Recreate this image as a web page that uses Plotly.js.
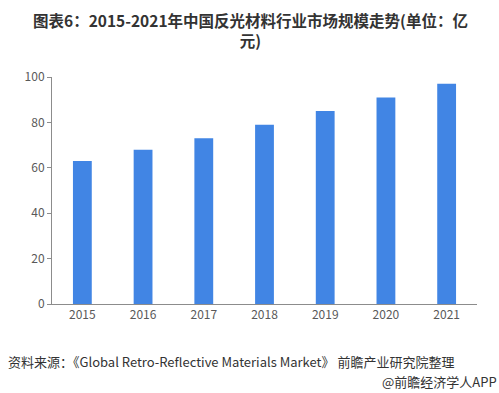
<!DOCTYPE html>
<html>
<head>
<meta charset="utf-8">
<script src="https://cdn.plot.ly/plotly-3.0.1.min.js"></script>
<style>html,body{margin:0;padding:0;background:#fff;}#chart{width:499px;height:393px;}</style>
</head>
<body>
<div id="chart"></div>
<script>
const years = ['2015','2016','2017','2018','2019','2020','2021'];
const marketSize = [63, 68, 73, 79, 85, 91, 97];
const yTicks = [0, 20, 40, 60, 80, 100];
const titleText = '图表6：2015-2021年中国反光材料行业市场规模走势(单位：亿<br>元)';
const sourceText = '资料来源：《Global Retro-Reflective Materials Market》 前瞻产业研究院整理';
const creditText = '@前瞻经济学人APP';

const font = '"Noto Sans CJK SC", "Microsoft YaHei", sans-serif';
const W = 499, H = 393, L = 52, R = 22, T = 77, B = 89;
const pw = W - L - R, ph = H - T - B;
const px = x => (x - L) / pw;
const py = y => (H - B - y) / ph;

Plotly.newPlot('chart', [{
  type: 'bar',
  x: years,
  y: marketSize,
  marker: {color: '#4185e4'},
  hoverinfo: 'x+y'
}], {
  width: W, height: H,
  margin: {l: L, r: R, t: T, b: B},
  paper_bgcolor: '#ffffff',
  plot_bgcolor: '#ffffff',
  bargap: 0.69,
  showlegend: false,
  font: {family: font, color: '#595959', size: 12},
  xaxis: {
    type: 'category',
    range: [-0.5, 6.5],
    showline: true, linecolor: '#8c8c8c', linewidth: 1,
    ticks: '', showgrid: false, zeroline: false,
    tickfont: {size: 12, color: '#595959'}
  },
  yaxis: {
    range: [0, 100],
    tickvals: yTicks,
    showline: true, linecolor: '#8c8c8c', linewidth: 1,
    ticks: 'outside', ticklen: 4, tickcolor: '#8c8c8c',
    showgrid: false, zeroline: false,
    tickfont: {size: 12, color: '#595959'}
  },
  annotations: [
    {text: '<b>' + titleText + '</b>', xref: 'paper', yref: 'paper', x: px(250), y: py(29.5),
     xanchor: 'center', yanchor: 'middle', showarrow: false, align: 'center',
     font: {family: font, size: 15.5, color: '#333333'}},
    {text: sourceText, xref: 'paper', yref: 'paper', x: px(6), y: py(361),
     xanchor: 'left', yanchor: 'middle', showarrow: false,
     font: {family: font, size: 13, color: '#333333'}},
    {text: creditText, xref: 'paper', yref: 'paper', x: px(499), y: py(381),
     xanchor: 'right', yanchor: 'middle', showarrow: false,
     font: {family: font, size: 13, color: '#333333'}}
  ]
}, {displayModeBar: false, staticPlot: true});
</script>
</body>
</html>
